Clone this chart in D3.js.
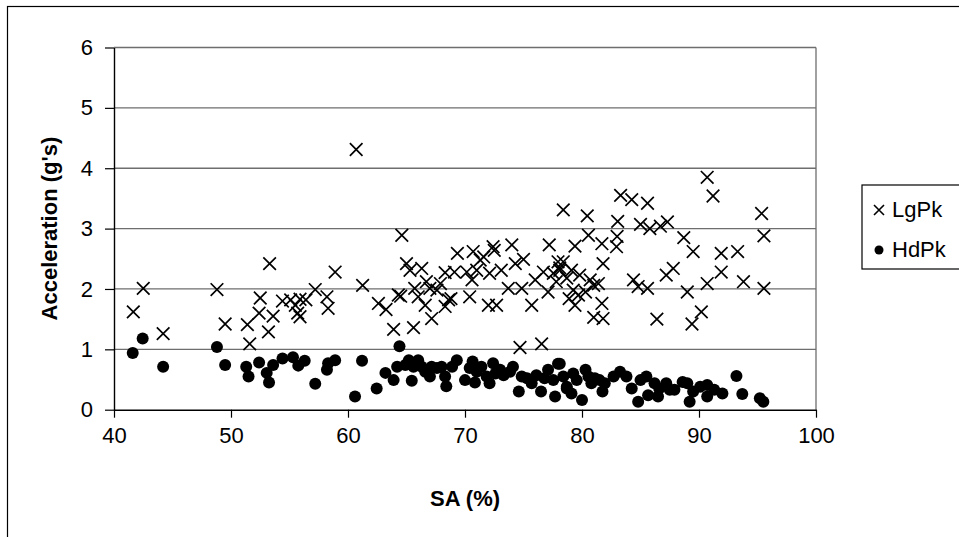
<!DOCTYPE html>
<html>
<head>
<meta charset="utf-8">
<script src="https://cdn.jsdelivr.net/npm/d3@7"></script>
<style>
  html, body { margin: 0; padding: 0; background: #fff; overflow: hidden; }
  svg { display: block; font-family: "Liberation Sans", Arial, sans-serif; }
</style>
</head>
<body>
<div id="chart"></div>
<script>
// LgPk series: [SA (%), acceleration (g's)]
const lgPk = [
  [41.65, 1.62], [42.5, 2.01], [44.2, 1.26], [48.8, 1.99], [49.5, 1.42], [51.4, 1.41],
  [51.6, 1.09], [52.5, 1.85], [52.4, 1.6], [53.3, 2.42], [53.2, 1.29], [53.6, 1.55],
  [54.4, 1.8], [55.1, 1.82], [55.5, 1.73], [55.9, 1.83], [55.7, 1.6], [55.9, 1.54],
  [56.4, 1.82], [57.2, 1.99], [58.2, 1.87], [58.3, 1.68], [58.9, 2.28], [60.7, 4.31],
  [61.25, 2.06], [62.6, 1.76], [63.25, 1.66], [63.9, 1.33], [64.3, 1.9], [64.5, 1.88],
  [64.6, 2.89], [65.0, 2.42], [65.3, 2.31], [65.6, 1.36], [65.7, 2.01], [66.0, 1.87],
  [66.3, 2.34], [66.6, 1.73], [66.7, 2.12], [67.0, 2.01], [67.15, 1.51], [67.6, 1.98],
  [67.9, 2.09], [68.3, 2.27], [68.3, 1.71], [68.6, 1.82], [68.8, 1.84], [69.1, 2.28],
  [69.35, 2.59], [70.15, 2.28], [70.4, 1.87], [70.6, 2.15], [70.7, 2.62], [71.0, 2.31],
  [71.3, 2.48], [71.6, 2.53], [72.0, 1.73], [72.1, 2.26], [72.4, 2.7], [72.5, 2.64],
  [72.7, 1.73], [73.1, 2.31], [73.7, 2.01], [74.0, 2.73], [74.3, 2.42], [74.7, 1.03],
  [74.85, 2.01], [75.0, 2.49], [75.7, 1.73], [76.0, 2.15], [76.55, 1.09], [76.7, 2.28],
  [77.1, 1.95], [77.2, 2.73], [77.55, 2.26], [77.8, 2.12], [77.95, 2.45], [78.1, 2.35],
  [78.1, 2.31], [78.4, 3.31], [78.4, 2.45], [78.7, 2.18], [78.9, 1.84], [79.1, 2.31],
  [79.25, 1.98], [79.4, 2.71], [79.4, 1.73], [79.7, 1.9], [79.8, 2.23], [80.3, 1.95],
  [80.45, 3.21], [80.55, 2.89], [80.7, 2.15], [81.0, 2.06], [81.0, 1.53], [81.4, 2.09],
  [81.7, 2.75], [81.7, 1.76], [81.8, 2.42], [81.8, 1.51], [83.0, 2.87], [82.95, 2.7],
  [83.05, 3.12], [83.3, 3.55], [84.25, 3.48], [84.4, 2.15], [84.8, 2.04], [85.0, 3.07],
  [85.6, 3.42], [85.6, 2.01], [85.8, 3.0], [86.4, 1.5], [86.7, 3.04], [87.2, 2.23],
  [87.3, 3.11], [87.8, 2.34], [88.7, 2.85], [89.0, 1.95], [89.4, 1.42], [89.5, 2.62],
  [90.2, 1.62], [90.7, 3.85], [90.7, 2.09], [91.2, 3.54], [91.9, 2.59], [91.9, 2.28],
  [93.3, 2.62], [93.8, 2.12], [95.35, 3.25], [95.55, 2.88], [95.55, 2.01]
];

// HdPk series: [SA (%), acceleration (g's)]
const hdPk = [
  [41.6, 0.94], [42.45, 1.18], [44.2, 0.71], [48.8, 1.04], [49.5, 0.74], [51.3, 0.71],
  [51.5, 0.55], [52.4, 0.78], [53.05, 0.61], [53.25, 0.45], [53.6, 0.74], [54.4, 0.85],
  [55.3, 0.87], [55.75, 0.73], [56.3, 0.81], [57.2, 0.43], [58.2, 0.66], [58.3, 0.77],
  [58.9, 0.82], [60.6, 0.22], [61.2, 0.81], [62.45, 0.35], [63.2, 0.61], [63.9, 0.49],
  [64.2, 0.71], [64.4, 1.05], [64.9, 0.74], [65.2, 0.82], [65.45, 0.48], [65.6, 0.71],
  [66.0, 0.82], [66.3, 0.71], [66.6, 0.63], [67.0, 0.55], [67.15, 0.71], [67.6, 0.69],
  [68.0, 0.71], [68.3, 0.55], [68.4, 0.39], [68.9, 0.71], [69.3, 0.82], [70.0, 0.49],
  [70.4, 0.69], [70.65, 0.8], [70.85, 0.45], [71.0, 0.63], [71.4, 0.71], [71.85, 0.55],
  [72.1, 0.44], [72.4, 0.77], [72.6, 0.6], [73.0, 0.66], [73.3, 0.57], [73.85, 0.63],
  [74.1, 0.71], [74.6, 0.3], [74.85, 0.55], [75.3, 0.52], [75.7, 0.44], [76.1, 0.57],
  [76.5, 0.3], [76.8, 0.52], [77.1, 0.66], [77.55, 0.49], [77.7, 0.22], [77.95, 0.76],
  [78.1, 0.76], [78.4, 0.55], [78.7, 0.35], [78.7, 0.38], [79.1, 0.27], [79.25, 0.6],
  [79.55, 0.49], [80.0, 0.16], [80.3, 0.66], [80.55, 0.55], [80.8, 0.44], [81.1, 0.52],
  [81.5, 0.49], [81.75, 0.3], [81.95, 0.44], [82.7, 0.55], [83.25, 0.63], [83.8, 0.55],
  [84.25, 0.35], [84.8, 0.13], [85.0, 0.49], [85.5, 0.55], [85.65, 0.24], [86.2, 0.44],
  [86.5, 0.22], [86.6, 0.35], [87.2, 0.44], [87.5, 0.33], [87.9, 0.33], [88.6, 0.46],
  [89.0, 0.44], [89.2, 0.13], [89.5, 0.3], [90.1, 0.38], [90.7, 0.41], [90.7, 0.22],
  [91.3, 0.33], [92.0, 0.27], [93.2, 0.56], [93.7, 0.26], [95.2, 0.19], [95.5, 0.13]
];

const xTicks = [40, 50, 60, 70, 80, 90, 100];
const yTicks = [0, 1, 2, 3, 4, 5, 6];
const seriesNames = ["LgPk", "HdPk"];

const width = 959, height = 537;
const plot = { left: 114, right: 816, top: 47.5, bottom: 409.7 };
const fontSize = "22px";

const svg = d3.select("#chart").append("svg")
    .attr("width", width)
    .attr("height", height);

// outer chart frame (runs off the right and bottom edges)
svg.append("rect")
    .attr("x", 7.5).attr("y", 6.5)
    .attr("width", 1000).attr("height", 600)
    .attr("fill", "#fff")
    .attr("stroke", "#000")
    .attr("stroke-width", 1.2);

const x = d3.scaleLinear().domain([40, 100]).range([plot.left, plot.right]);
const y = d3.scaleLinear().domain([0, 6]).range([plot.bottom, plot.top]);

// gridlines
svg.append("g")
    .selectAll("line")
    .data(yTicks.filter(d => d > 0))
    .join("line")
    .attr("x1", plot.left).attr("x2", plot.right)
    .attr("y1", d => y(d)).attr("y2", d => y(d))
    .attr("stroke", "#6e6e6e")
    .attr("stroke-width", 1.3);

// right side of plot area
svg.append("line")
    .attr("x1", plot.right).attr("x2", plot.right)
    .attr("y1", plot.top).attr("y2", plot.bottom)
    .attr("stroke", "#6e6e6e")
    .attr("stroke-width", 1.3);

// axes
const xAxis = svg.append("g")
    .attr("transform", `translate(0,${plot.bottom})`)
    .call(d3.axisBottom(x).tickValues(xTicks).tickFormat(d3.format("d"))
        .tickSize(8).tickPadding(10).tickSizeOuter(0));

const yAxis = svg.append("g")
    .attr("transform", `translate(${plot.left},0)`)
    .call(d3.axisLeft(y).tickValues(yTicks).tickFormat(d3.format("d"))
        .tickSize(9).tickPadding(12).tickSizeOuter(0));

[xAxis, yAxis].forEach(ax => {
    ax.select(".domain").attr("stroke", "#000").attr("stroke-width", 1.4);
    ax.selectAll(".tick line").attr("stroke", "#000").attr("stroke-width", 1.2);
    ax.selectAll(".tick text")
        .attr("fill", "#000")
        .style("font-size", fontSize)
        .style("font-family", '"Liberation Sans", Arial, sans-serif');
});

// markers
const cross = s => `M${-s},${-s}L${s},${s}M${-s},${s}L${s},${-s}`;

svg.append("g")
    .selectAll("circle")
    .data(hdPk)
    .join("circle")
    .attr("cx", d => x(d[0]))
    .attr("cy", d => y(d[1]))
    .attr("r", 6)
    .attr("fill", "#000");

svg.append("g")
    .selectAll("path")
    .data(lgPk)
    .join("path")
    .attr("transform", d => `translate(${x(d[0])},${y(d[1])})`)
    .attr("d", cross(6.3))
    .attr("fill", "none")
    .attr("stroke", "#000")
    .attr("stroke-width", 1.7);

// axis titles
svg.append("text")
    .attr("x", (plot.left + plot.right) / 2)
    .attr("y", 506)
    .attr("text-anchor", "middle")
    .style("font-size", fontSize)
    .style("font-weight", "bold")
    .text("SA (%)");

svg.append("text")
    .attr("transform", `translate(57,${(plot.top + plot.bottom) / 2}) rotate(-90)`)
    .attr("text-anchor", "middle")
    .style("font-size", fontSize)
    .style("font-weight", "bold")
    .text("Acceleration (g's)");

// legend
const legend = svg.append("g");
legend.append("rect")
    .attr("x", 862).attr("y", 185)
    .attr("width", 120).attr("height", 84)
    .attr("fill", "#fff")
    .attr("stroke", "#000")
    .attr("stroke-width", 1.2);

legend.append("path")
    .attr("transform", "translate(879,210)")
    .attr("d", cross(5))
    .attr("stroke", "#000")
    .attr("stroke-width", 1.6);

legend.append("circle")
    .attr("cx", 879).attr("cy", 250)
    .attr("r", 4.5)
    .attr("fill", "#000");

legend.selectAll("text.lbl")
    .data(seriesNames)
    .join("text")
    .attr("class", "lbl")
    .attr("x", 892)
    .attr("y", (d, i) => 217 + i * 40)
    .style("font-size", fontSize)
    .text(d => d);
</script>
</body>
</html>
